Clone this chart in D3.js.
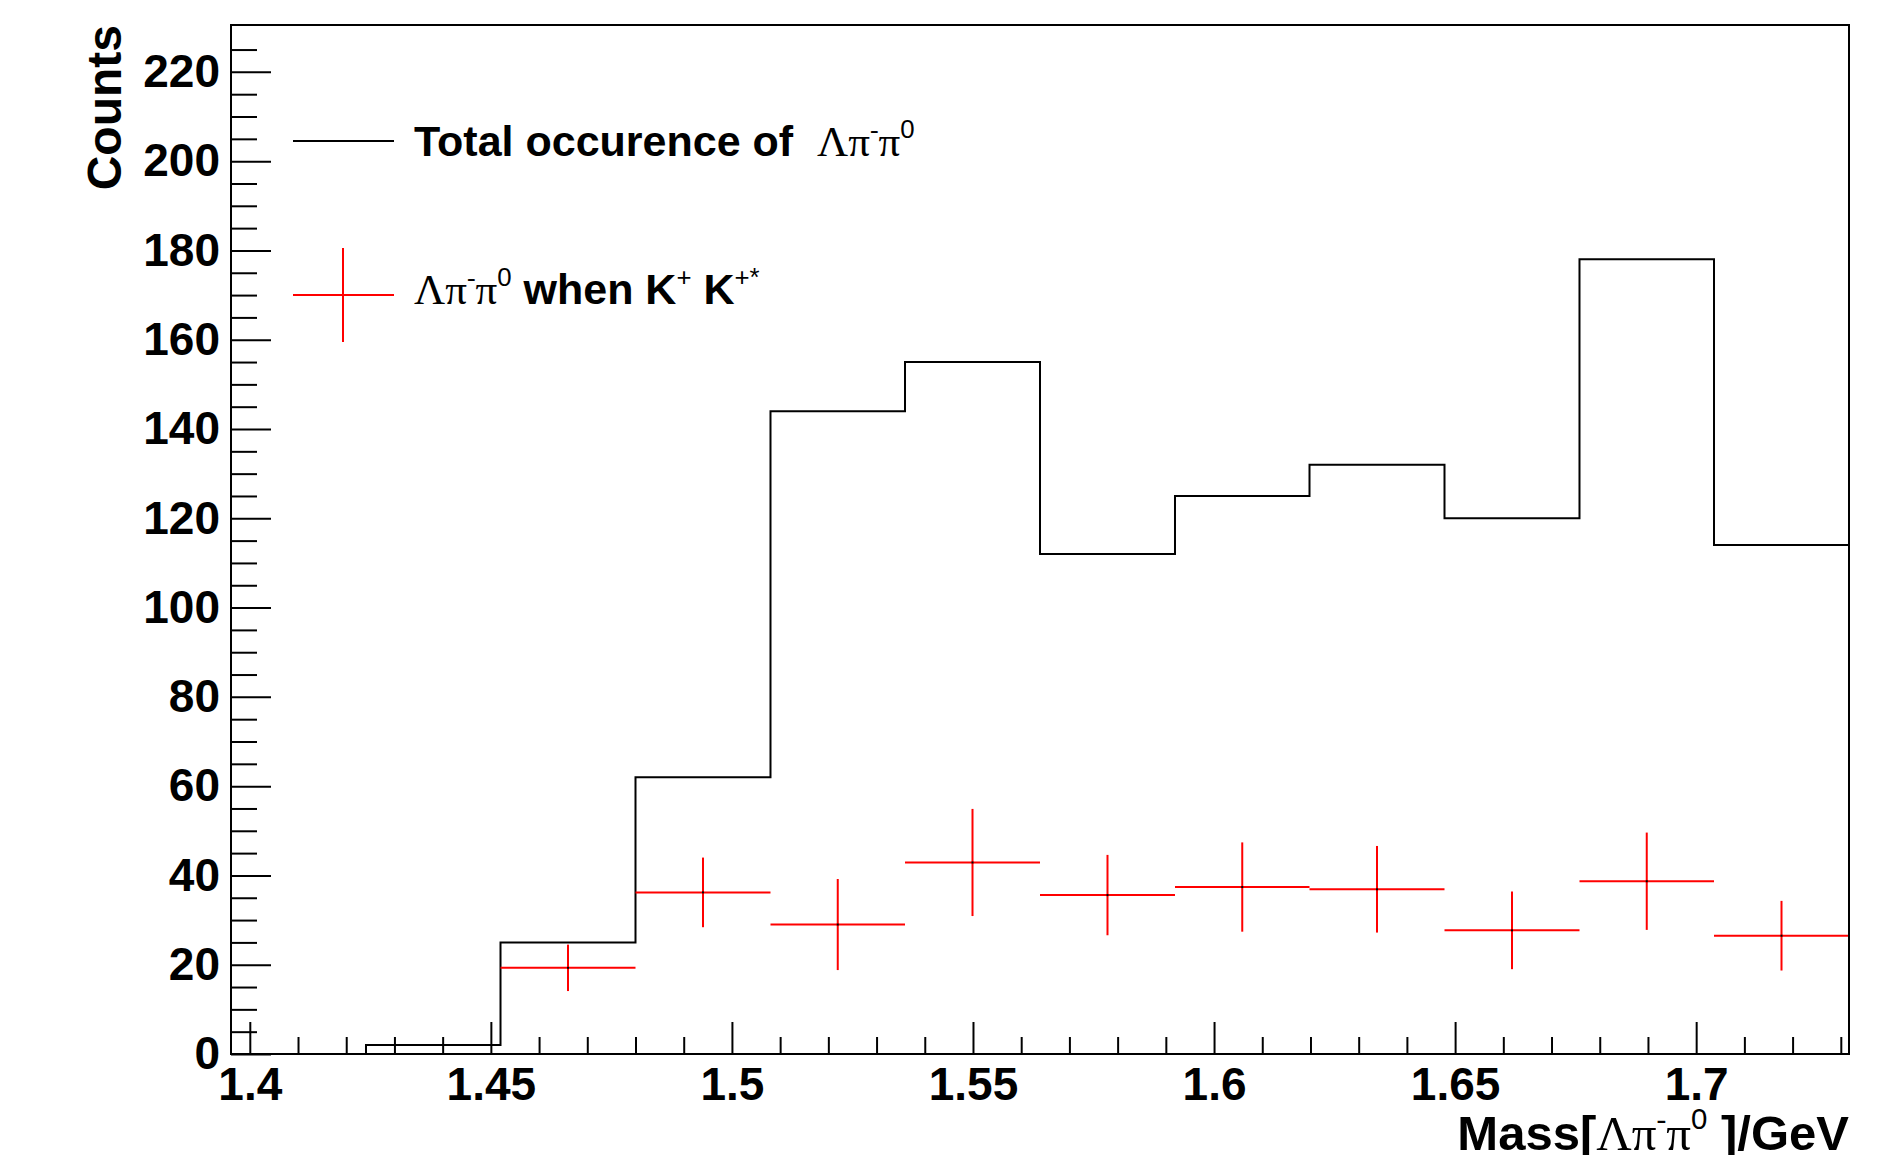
<!DOCTYPE html>
<html>
<head>
<meta charset="utf-8">
<script src="https://cdn.jsdelivr.net/npm/d3@7"></script>
<style>
body { margin: 0; background: #fff; }
text { font-family: "Liberation Sans", Arial, sans-serif; font-weight: bold; }
</style>
</head>
<body>
<svg id="chart" width="1883" height="1155"></svg>
<script>
// bin edges of the histogram (12 bins)
var binEdges = [1.3961, 1.4241, 1.4520, 1.4800, 1.5080, 1.5359, 1.5639,
                1.5919, 1.6198, 1.6478, 1.6758, 1.7037, 1.7317];
// black histogram: total occurence
var totalCounts = [0, 2, 25, 62, 144, 155, 112, 125, 132, 120, 178, 114];
// red points: when K+ K+*
var kCounts = [0, 0, 19.3, 36.2, 29.0, 42.9, 35.6, 37.4, 36.9, 27.7, 38.7, 26.5];
var kErrors = [0, 0, 5.2, 7.8, 10.2, 12.0, 9.0, 10.0, 9.7, 8.7, 10.9, 7.8];

var xTicks = [1.4, 1.45, 1.5, 1.55, 1.6, 1.65, 1.7];
var xTickLabels = ["1.4", "1.45", "1.5", "1.55", "1.6", "1.65", "1.7"];
var yTicks = [0, 20, 40, 60, 80, 100, 120, 140, 160, 180, 200, 220];
var yMax = 230.5;

var frameLeft = 231, frameRight = 1849, frameTop = 25, frameBottom = 1054;
var svg = d3.select("#chart");

var x = d3.scaleLinear().domain([binEdges[0], binEdges[binEdges.length - 1]]).range([frameLeft, frameRight]);
var y = d3.scaleLinear().domain([0, yMax]).range([frameBottom, frameTop]);

// minor tick positions
var xMinor = d3.range(140, 174).map(function(v) { return v / 100; })
  .filter(function(v) { return Math.round(v * 100) % 5 != 0; });
var yMinor = d3.range(5, 230, 5).filter(function(v) { return v % 20 != 0; });

// Y axis
var yAxis = d3.axisLeft(y).tickValues(yTicks).tickSizeInner(-40).tickSizeOuter(0).tickPadding(11);
var gy = svg.append("g").attr("transform", "translate(" + frameLeft + ",0)").call(yAxis);
gy.select(".domain").remove();
gy.selectAll("line").attr("stroke", "black").attr("stroke-width", 2);
gy.selectAll("text").style("font-size", "46px").attr("fill", "black");

var gy2 = svg.append("g").attr("transform", "translate(" + frameLeft + ",0)")
  .call(d3.axisLeft(y).tickValues(yMinor).tickSizeInner(-26).tickSizeOuter(0).tickFormat(""));
gy2.select(".domain").remove();
gy2.selectAll("line").attr("stroke", "black").attr("stroke-width", 2);

// X axis
var xAxis = d3.axisBottom(x).tickValues(xTicks)
  .tickFormat(function(d, i) { return xTickLabels[i]; })
  .tickSizeInner(-32).tickSizeOuter(0).tickPadding(13);
var gx = svg.append("g").attr("transform", "translate(0," + frameBottom + ")").call(xAxis);
gx.select(".domain").remove();
gx.selectAll("line").attr("stroke", "black").attr("stroke-width", 2);
gx.selectAll("text").style("font-size", "46px").attr("fill", "black");

var gx2 = svg.append("g").attr("transform", "translate(0," + frameBottom + ")")
  .call(d3.axisBottom(x).tickValues(xMinor).tickSizeInner(-17).tickSizeOuter(0).tickFormat(""));
gx2.select(".domain").remove();
gx2.selectAll("line").attr("stroke", "black").attr("stroke-width", 2);

// clip to frame
svg.append("clipPath").attr("id", "frameClip")
  .append("rect").attr("x", frameLeft).attr("y", frameTop)
  .attr("width", frameRight - frameLeft).attr("height", frameBottom - frameTop);
var plot = svg.append("g").attr("clip-path", "url(#frameClip)");

// black histogram outline
var pts = [];
for (var i = 0; i < totalCounts.length; i++) {
  pts.push([binEdges[i], totalCounts[i]]);
  pts.push([binEdges[i + 1], totalCounts[i]]);
}
var line = d3.line().x(function(d) { return x(d[0]); }).y(function(d) { return y(d[1]); });
plot.append("path").attr("d", line(pts))
  .attr("fill", "none").attr("stroke", "black").attr("stroke-width", 2);

// red points with errors
var red = [];
for (var j = 0; j < kCounts.length; j++) {
  if (kCounts[j] > 0) red.push({ lo: binEdges[j], hi: binEdges[j + 1], v: kCounts[j], e: kErrors[j] });
}
plot.selectAll(".hbar").data(red).enter().append("line")
  .attr("x1", function(d) { return x(d.lo); })
  .attr("x2", function(d) { return x(d.hi); })
  .attr("y1", function(d) { return y(d.v); })
  .attr("y2", function(d) { return y(d.v); })
  .attr("stroke", "#ff0000").attr("stroke-width", 2);
plot.selectAll(".vbar").data(red).enter().append("line")
  .attr("x1", function(d) { return x((d.lo + d.hi) / 2); })
  .attr("x2", function(d) { return x((d.lo + d.hi) / 2); })
  .attr("y1", function(d) { return y(d.v - d.e); })
  .attr("y2", function(d) { return y(d.v + d.e); })
  .attr("stroke", "#ff0000").attr("stroke-width", 2);
plot.selectAll(".dot").data(red).enter().append("rect")
  .attr("x", function(d) { return x((d.lo + d.hi) / 2) - 1; })
  .attr("y", function(d) { return y(d.v) - 1; })
  .attr("width", 2).attr("height", 2).attr("fill", "black");

// frame
svg.append("rect").attr("x", frameLeft).attr("y", frameTop)
  .attr("width", frameRight - frameLeft).attr("height", frameBottom - frameTop)
  .attr("fill", "none").attr("stroke", "black").attr("stroke-width", 2);

// latex-like text helper
function latex(sel, parts, size) {
  var shift = 0;
  parts.forEach(function(p) {
    var ts = sel.append("tspan").text(p.t);
    var target = p.sup ? -0.42 * size : 0;
    ts.attr("dy", target - shift);
    shift = target;
    if (p.greek) {
      ts.style("font-family", "'Liberation Serif', 'Times New Roman', serif").style("font-weight", "normal");
    }
    if (p.sup) {
      ts.style("font-size", (size * 0.6) + "px").style("font-weight", "normal");
    }
  });
  return sel;
}
var lamPiPi = [
  { t: "Λπ", greek: true },
  { t: "-", greek: true, sup: true },
  { t: "π", greek: true },
  { t: "0", sup: true }
];

// axis titles
svg.append("text").attr("transform", "translate(121," + frameTop + ") rotate(-90)")
  .attr("text-anchor", "end").style("font-size", "48px").text("Counts");

var xt = svg.append("text").attr("x", frameRight).attr("y", 1150)
  .attr("text-anchor", "end").style("font-size", "49px").style("white-space", "pre");
latex(xt, [{ t: "Mass[" }].concat(lamPiPi).concat([{ t: " ]/GeV" }]), 49);

// legend
var leg = svg.append("g");
leg.append("line").attr("x1", 293).attr("x2", 394).attr("y1", 141).attr("y2", 141)
  .attr("stroke", "black").attr("stroke-width", 2);
leg.append("line").attr("x1", 293).attr("x2", 394).attr("y1", 295).attr("y2", 295)
  .attr("stroke", "#ff0000").attr("stroke-width", 2);
leg.append("line").attr("x1", 343).attr("x2", 343).attr("y1", 248).attr("y2", 342)
  .attr("stroke", "#ff0000").attr("stroke-width", 2);

var t1 = leg.append("text").attr("x", 414).attr("y", 156).style("font-size", "43px")
  .style("white-space", "pre");
latex(t1, [{ t: "Total occurence of  " }].concat(lamPiPi), 43);

var t2 = leg.append("text").attr("x", 414).attr("y", 304).style("font-size", "43px")
  .style("white-space", "pre");
latex(t2, lamPiPi.concat([{ t: " when K" }, { t: "+", sup: true }, { t: " K" }, { t: "+*", sup: true }]), 43);
</script>
</body>
</html>
